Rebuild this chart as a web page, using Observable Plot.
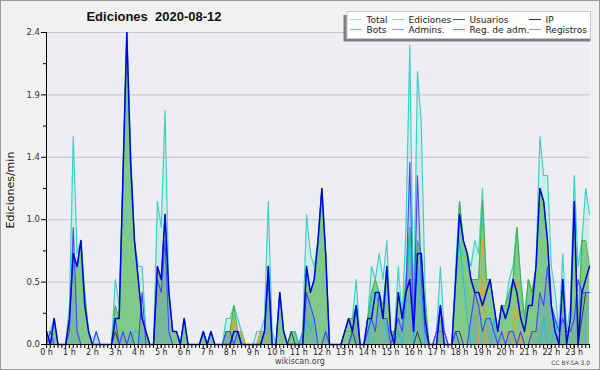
<!DOCTYPE html>
<html>
<head>
<meta charset="utf-8">
<script src="https://cdn.jsdelivr.net/npm/d3@7"></script>
<script src="https://cdn.jsdelivr.net/npm/@observablehq/plot@0.6"></script>
<style>
html,body{margin:0;padding:0;background:#f2f2f2;}
#chart{position:relative;width:600px;height:370px;background:#f2f2f2;overflow:hidden;}
#chart svg{position:absolute;left:0;top:0;}
</style>
</head>
<body>
<div id="chart"></div>
<script>
// 10-minute steps, edits per minute (0h00 .. 23h40)
const total = [
0.1,0.1,0.2,0,0,0,
0.3,1.6,0.7,0.8,0.4,0.1,
0,0.1,0,0,0,0,
0.5,0.3,1.3,2.4,1.5,0.8,
0.6,0.6,0.1,0,0,1.1,
0.9,1.8,0.4,0.1,0.1,0,
0.2,0,0,0,0,0.1,
0,0.1,0,0,0,0.2,
0.2,0.3,0.2,0.1,0,0,
0,0.1,0.1,0.2,1.1,0.1,
0,0.4,0.1,0,0.1,0.1,
0,0.1,1.0,0.7,0.6,0.8,
1.2,0.7,0,0,0,0,
0.1,0.2,0.2,0.5,0,0,
0.2,0.6,0.5,0.7,0.5,0.8,
0.1,0.1,0.6,0.2,0.9,2.3,
0.2,2.1,1.7,0.4,0,0,
0.1,0.6,0.1,0,0,0.6,
1.1,0.8,0.7,0.6,0.8,0.7,
1.2,0.5,0.5,0.3,0.1,0.3,
0.3,0.5,0.6,0.9,0.5,0.2,
0.5,0.4,0.6,1.6,1.3,1.3,
0.6,0.4,0.1,0.7,0.1,0.3,
1.3,0.6,0.8,1.2,1.0];
const ediciones = [
0.1,0,0.2,0,0,0,
0.2,0.7,0.6,0.8,0.4,0.1,
0,0,0,0,0,0,
0.3,0.2,1.3,2.4,1.4,0.8,
0.5,0.2,0.1,0,0,0.6,
0.5,1.0,0.4,0.1,0.1,0,
0.2,0,0,0,0,0.1,
0,0.1,0,0,0,0.1,
0.1,0.3,0.1,0.1,0,0,
0,0,0.1,0.1,0.6,0,
0,0.4,0.1,0,0.1,0.1,
0,0.1,0.6,0.4,0.5,0.8,
1.2,0.7,0,0,0,0,
0.1,0.2,0.2,0.3,0,0,
0.2,0.4,0.5,0.4,0.3,0.6,
0.1,0.1,0.4,0.2,0.5,0.9,
0.1,0.8,0.7,0.3,0,0,
0,0.3,0,0,0,0.5,
1.1,0.8,0.7,0.5,0.5,0.5,
1.1,0.5,0.5,0.3,0.1,0.3,
0.3,0.4,0.5,0.9,0.5,0.2,
0.5,0.4,0.6,1.2,1.1,0.8,
0.3,0.1,0,0.5,0,0.2,
1.1,0.1,0.8,0.8,0.6];
const usuarios = [
0.1,0,0.2,0,0,0,
0.2,0.7,0.6,0.8,0.3,0.1,
0,0,0,0,0,0,
0.2,0.2,1.3,2.4,1.4,0.8,
0.5,0.2,0.1,0,0,0.6,
0.5,1.0,0.4,0.1,0.1,0,
0.2,0,0,0,0,0.1,
0,0.1,0,0,0,0,
0,0.1,0.1,0,0,0,
0,0,0,0.1,0.6,0,
0,0.4,0.1,0,0,0,
0,0,0.6,0.4,0.5,0.8,
1.2,0.7,0,0,0,0,
0.1,0.2,0.1,0.3,0,0,
0.2,0.2,0.4,0.4,0.2,0.6,
0.1,0,0.4,0.2,0.4,0.5,
0.1,0.7,0.7,0.2,0,0,
0,0.3,0,0,0,0.5,
1.0,0.8,0.7,0.5,0.4,0.4,
0.3,0.4,0.5,0.3,0.1,0.3,
0.2,0.3,0.5,0.4,0.2,0.1,
0.3,0.3,0.6,1.2,1.1,0.8,
0.3,0.1,0,0.5,0,0.2,
1.1,0,0.4,0.5,0.6];
const registros = [
0,0.1,0,0,0,0,
0.1,0.9,0.1,0,0,0,
0,0.1,0,0,0,0,
0.2,0,0.1,0,0.1,0,
0,0.4,0,0,0,0.5,
0.4,0.8,0.1,0,0,0,
0,0,0,0,0,0,
0,0,0,0,0,0.1,
0.1,0,0.1,0,0,0,
0,0,0,0.1,0.5,0,
0,0,0,0,0,0,
0,0,0.4,0.3,0.2,0,
0,0.1,0,0,0,0,
0,0,0.1,0.3,0,0,
0.1,0.2,0.1,0.4,0.2,0.2,
0,0.1,0.2,0.1,0.4,1.4,
0.1,1.3,0.5,0.1,0,0,
0.1,0.3,0.1,0,0,0.1,
0,0,0,0.2,0.4,0.3,
0.1,0.2,0.2,0.1,0,0.1,
0,0.1,0.1,0,0.1,0,
0,0.1,0.1,0.4,0.3,0.6,
0.3,0.2,0.1,0.2,0.1,0.1,
0.2,0.5,0.4,0.4,0.4];
const ip = [
0,0,0,0,0,0, 0,0,0,0,0,0, 0,0,0,0,0,0,
0.1,0,0,0,0,0,
0,0,0,0,0,0, 0,0,0,0,0,0, 0,0,0,0,0,0, 0,0,0,0,0,0, 0,0,0,0,0,0, 0,0,0,0,0,0,
0,0,0,0,0.1,0,
0,0,0,0,0,0, 0,0,0,0,0,0,
0,0,0.1,0,0,0,
0,0,0,0,0,0, 0,0,0,0,0,0,
0,0.1,0,0,0,0,
0,0,0,0,0,0.1,
0.1,0,0,0,0,0,
0,0,0,0,0,0, 0,0,0,0,0,0, 0,0,0,0,0,0, 0,0,0,0,0,0,
0,0,0.2,0.4,0.4];
const bots = [
0,0,0,0,0,0, 0,0,0,0,0,0, 0,0,0,0,0,0, 0,0,0,0,0,0,
0,0,0,0,0,0, 0,0,0,0,0,0, 0,0,0,0,0,0, 0,0,0,0,0,0,
0,0.2,0.1,0.1,0,0,
0,0,0.1,0.1,0,0,
0,0,0,0,0,0, 0,0,0,0,0,0, 0,0,0,0,0,0, 0,0,0,0,0,0, 0,0,0,0,0,0,
0,0,0,0,0,0, 0,0,0,0,0,0, 0,0,0,0,0,0, 0,0,0,0,0,0,
0.8,0,0,0,0,0,
0.1,0.1,0,0.5,0,0.1,
0.1,0,0,0,0,0,
0,0,0,0,0,0,
0,0,0,0,0];
const admins = [
0,0,0,0,0,0, 0,0,0,0,0,0, 0,0,0,0,0,0,
0,0,0,0,0,0.1,
0.1,0,0,0,0,0,
0,0,0,0,0,0, 0,0,0,0,0,0, 0,0,0,0,0,0, 0,0,0,0,0,0, 0,0,0,0,0,0,
0,0,0,0,0.1,0.1,
0,0,0.2,0.1,0.2,0,
0,0,0,0,0,0,
0.1,0.1,0.1,0,0,0,
0,0.4,0.4,0.3,0.2,0.1,
0,0,0.1,0,0.3,0.9,
0,0.6,0.3,0,0,0,
0,0,0,0,0,0.5,
0.8,0.5,0.2,0,0,0,
0,0,0,0.2,0,0,
0,0,0,0,0,0,
0,0,0,0,0.2,0,
0,0.2,0,0,0,0,
0,0,0,0,0];
const regAdm = [
0,0,0,0,0,0, 0,0,0,0,0,0, 0,0,0,0,0,0, 0,0,0,0,0,0,
0,0,0,0,0,0, 0,0,0,0,0,0, 0,0,0,0,0,0, 0,0,0,0,0,0,
0,0,0,0,0,0, 0,0,0,0,0,0, 0,0,0,0,0,0, 0,0,0,0,0,0,
0,0,0,0,0,0, 0,0,0,0,0,0, 0,0,0,0,0,0, 0,0,0,0,0,0,
0,0,0,0,0,0,
0.1,0.1,0.1,0,0,0,
0,0,0,0,0,0, 0,0,0,0,0,0, 0,0,0,0,0,0, 0,0,0,0,0,0, 0,0,0,0,0,0,
0,0,0,0,0];

const hourLabels = ["0 h","1 h","2 h","3 h","4 h","5 h","6 h","7 h","8 h","9 h","10 h","11 h",
  "12 h","13 h","14 h","15 h","16 h","17 h","18 h","19 h","20 h","21 h","22 h","23 h"];
const hourTicks = [0,6,12,18,24,30,36,42,48,54,60,66,72,78,84,90,96,102,108,114,120,126,132,138];
const yTicks = [0, 0.48, 0.96, 1.44, 1.92, 2.4];
const yMinorTicks = [0.24, 0.72, 1.2, 1.68, 2.16];
const legendRows = [["Total","Ediciones","Usuarios","IP"],["Bots","Admins.","Reg. de adm.","Registros"]];

const data = total.map((t, i) => ({
  i, total: t, ediciones: ediciones[i], usuarios: usuarios[i], registros: registros[i],
  ip: ip[i], bots: bots[i], admins: admins[i], regAdm: regAdm[i]
}));
const minuteTicks = data.map(d => d.i);

const C = {
  total: "#3ed2c6", ediciones: "#3fb23f", usuarios: "#0000e6", ip: "#3c3c3c",
  bots: "#ff9a1c", admins: "#1ec0e0", regAdm: "#cc33ee", registros: "#4646ff"
};

const plot = Plot.plot({
  width: 600, height: 370,
  marginLeft: 46, marginRight: 10, marginTop: 32, marginBottom: 26,
  style: {background: "transparent", fontFamily: "DejaVu Sans", overflow: "visible"},
  x: {domain: [0, 142.25], label: null},
  y: {domain: [0, 2.4], label: null},
  marks: [
    Plot.frame({fill: "#eceef1", stroke: "none"}),
    Plot.ruleY(yTicks.filter(d => d > 0), {stroke: "#c8c8c8"}),
    Plot.areaY(data, {x: "i", y: "total", fill: C.total, fillOpacity: 0.16}),
    Plot.areaY(data, {x: "i", y: "ediciones", fill: "#3cae3c", fillOpacity: 0.55}),
    Plot.areaY(data, {x: "i", y: "registros", fill: "#4040ff", fillOpacity: 0.12}),
    Plot.lineY(data, {x: "i", y: "total", stroke: C.total, strokeWidth: 1.2}),
    Plot.lineY(data, {x: "i", y: "ediciones", stroke: C.ediciones, strokeWidth: 1}),
    Plot.lineY(data, {x: "i", y: "bots", stroke: C.bots, strokeWidth: 1}),
    Plot.lineY(data, {x: "i", y: "admins", stroke: C.admins, strokeWidth: 1}),
    Plot.lineY(data, {x: "i", y: "regAdm", stroke: C.regAdm, strokeWidth: 1}),
    Plot.lineY(data, {x: "i", y: "ip", stroke: C.ip, strokeWidth: 1}),
    Plot.lineY(data, {x: "i", y: "registros", stroke: C.registros, strokeWidth: 1.1}),
    Plot.lineY(data, {x: "i", y: "usuarios", stroke: C.usuarios, strokeWidth: 1.5}),
    Plot.axisY({ticks: yTicks, tickFormat: d3.format(".1f"), tickSize: 5, tickPadding: 1.5,
      fontSize: 8.5, stroke: "#000", fill: "#333", label: null}),
    Plot.axisY({ticks: yMinorTicks, tickFormat: () => "", tickSize: 3, stroke: "#000", label: null}),
    Plot.axisX({ticks: minuteTicks, tickFormat: () => "", tickSize: 4, stroke: "#000", label: null}),
    Plot.axisX({ticks: hourTicks, tickFormat: d => hourLabels[hourTicks.indexOf(d)], tickSize: 4,
      tickPadding: 1, fontSize: 8, stroke: "#000", fill: "#222", label: null}),
    Plot.ruleX([0], {stroke: "#000"}),
    Plot.ruleY([0], {stroke: "#000"})
  ]
});
const chart = document.getElementById("chart");
chart.appendChild(plot);

// Overlay: frame, title, axis label, legend, footer
const svg = d3.select(chart).append("svg").attr("width", 600).attr("height", 370)
  .style("font-family", "DejaVu Sans");
svg.append("rect").attr("x", 0.5).attr("y", 0.5).attr("width", 599).attr("height", 369)
  .attr("fill", "none").attr("stroke", "#9a9a9a");
svg.append("text").attr("x", 154).attr("y", 21).attr("text-anchor", "middle")
  .style("font-family", "Liberation Sans").style("font-weight", "bold").style("font-size", "13px")
  .style("white-space", "pre").attr("fill", "#111").text("Ediciones  2020-08-12");
svg.append("text").attr("transform", "translate(13.5,190) rotate(-90)").attr("text-anchor", "middle")
  .style("font-size", "11px").attr("fill", "#111").text("Ediciones/min");

// legend
svg.append("rect").attr("x", 343.5).attr("y", 15).attr("width", 247).attr("height", 26.5).attr("fill", "#7f7f7f");
svg.append("rect").attr("x", 347).attr("y", 11.5).attr("width", 243.5).attr("height", 27)
  .attr("fill", "#fff").attr("stroke", "#c8c8c8");
const legendColors = [["#a6e6e2","#8fd48f","#4a4ae6","#333333"],["#f5a040","#44c8dc","#d45ae0","#8a8af0"]];
const colX = [350, 392, 453, 529];
legendRows.forEach((row, r) => {
  row.forEach((name, c) => {
    const y = 19.5 + r * 10;
    svg.append("line").attr("x1", colX[c]).attr("x2", colX[c] + 12).attr("y1", y).attr("y2", y)
      .attr("stroke", legendColors[r][c]).attr("stroke-width", 1);
    svg.append("text").attr("x", colX[c] + 16.5).attr("y", y + 3.3).style("font-size", "9px")
      .attr("fill", "#222").text(name);
  });
});

svg.append("text").attr("x", 300).attr("y", 363.5).attr("text-anchor", "middle")
  .style("font-size", "8px").attr("fill", "#444").text("wikiscan.org");
svg.append("text").attr("x", 590).attr("y", 364.5).attr("text-anchor", "end")
  .style("font-size", "6px").attr("fill", "#444").text("CC BY-SA 3.0");
</script>
</body>
</html>
